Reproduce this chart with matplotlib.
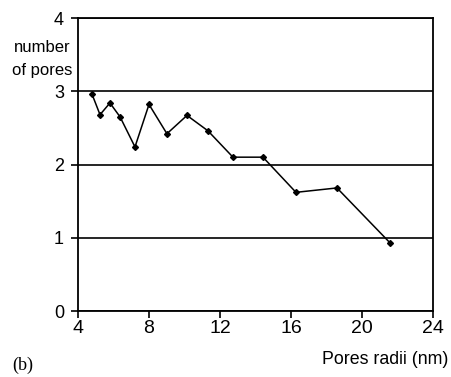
import numpy as np
import matplotlib.pyplot as plt

plt.rcParams['font.family'] = ['Liberation Sans', 'DejaVu Sans']

# pore radius (nm) and number of pores
radii = [4.79, 5.24, 5.80, 6.37, 7.21, 8.00, 9.01, 10.14, 11.32, 12.73, 14.42, 16.28, 18.59, 21.58]
pores = [2.96, 2.68, 2.84, 2.65, 2.24, 2.82, 2.42, 2.67, 2.46, 2.10, 2.10, 1.62, 1.68, 0.93]

xticks = [4, 8, 12, 16, 20, 24]
yticks = [0, 1, 2, 3, 4]

W, H = 452, 377
fig = plt.figure(figsize=(W / 100, H / 100), dpi=100)
ax = fig.add_axes([78 / W, 1 - 311 / H, (433 - 78) / W, (311 - 18) / H])

ax.plot(radii, pores, color='black', lw=1.1, marker='D', ms=3, zorder=3)

ax.set_xlim(4, 24)
ax.set_ylim(0, 4)
ax.set_xticks(xticks)
ax.set_yticks(yticks)
ax.yaxis.grid(True, color='black', lw=1.2)
ax.set_axisbelow(True)
for s in ax.spines.values():
    s.set_linewidth(1.3)
ax.tick_params(axis='both', direction='out', length=5, width=1.2, colors='black')
ax.tick_params(axis='x', labelsize=14, pad=1.5)
ax.tick_params(axis='y', labelsize=13, pad=5)

fig.text(42 / W, 1 - 48 / H, 'number', ha='center', va='center', fontsize=12)
fig.text(42 / W, 1 - 71 / H, 'of pores', ha='center', va='center', fontsize=12)
fig.text(448 / W, 1 - 359 / H, 'Pores radii (nm)', ha='right', va='center', fontsize=12.8)
fig.text(12 / W, 1 - 365 / H, '(b)', ha='left', va='center', fontsize=13,
         family=['Liberation Serif', 'DejaVu Serif'])

fig.savefig('out.png', dpi=100)
